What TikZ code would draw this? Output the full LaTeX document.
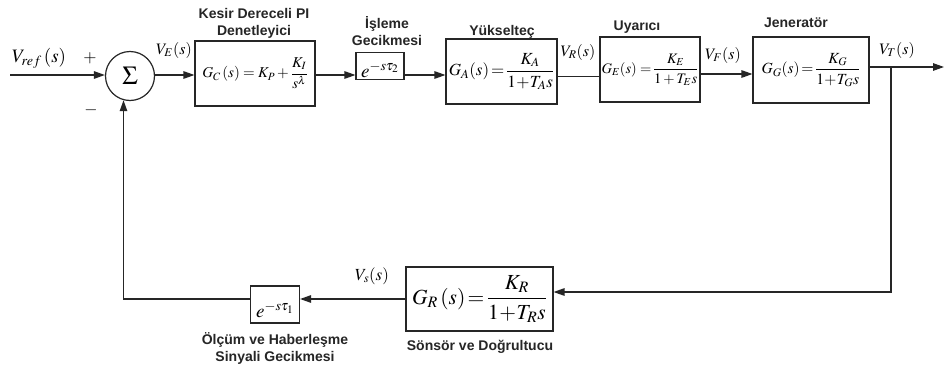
\documentclass[tikz,border=0pt]{standalone}
\usepackage{amsmath}
\usepackage{mathptmx}
\usepackage{fontspec}
\newfontfamily\lab{Liberation Sans}
\usetikzlibrary{arrows.meta}
\begin{document}
\begin{tikzpicture}[x=1pt,y=-1pt,
  line width=1.3pt, draw=black!85,
  >={Triangle[length=11pt,width=7.5pt]},
  blk/.style={draw=black!85, line width=1.1pt, inner sep=0pt, anchor=center},
  ttl/.style={font=\lab\bfseries\fontsize{14}{17}\selectfont, align=center, inner sep=0pt, text=black!85},
  sig/.style={inner sep=0pt, font=\fontsize{16}{18}\selectfont}]
\useasboundingbox[fill=white] (0,0) rectangle (947,367);
% blocks
\node[draw=black!85, circle, minimum size=49pt, inner sep=0pt, line width=1.2pt] (sum) at (130,76) {\fontsize{26}{26}\selectfont$\Sigma$};
\node[blk, minimum width=120pt, minimum height=65pt] (gc) at (255,73.5)
  {\fontsize{15}{17}\selectfont$G_C\,(s)=K_P+\dfrac{K_I}{s^{\lambda}}$\hspace{6pt}};
\node[blk, minimum width=48pt, minimum height=27pt] (d2) at (380,66)
  {\raisebox{-11pt}[0pt][0pt]{\fontsize{19}{19}\selectfont$e^{-s\tau_2}$}};
\node[blk, minimum width=111pt, minimum height=65pt] (ga) at (501.5,71.5)
  {\fontsize{17}{19}\selectfont$G_A(s)\!=\!\dfrac{K_A}{1\!+\!T_As}$};
\node[blk, minimum width=100pt, minimum height=65pt] (ge) at (650,69.5)
  {\fontsize{14.5}{16}\selectfont$G_E(s)=\!\dfrac{K_E}{1+T_Es}$};
\node[blk, minimum width=116pt, minimum height=66pt] (gg) at (811,70)
  {\fontsize{15.5}{17}\selectfont$G_{G}(s)\!=\!\dfrac{K_G}{1\!+\!T_{G}s}$};
\node[blk, minimum width=147pt, minimum height=64pt] (gr) at (479.5,299)
  {\fontsize{21.5}{24}\selectfont$G_R\,(s)\!=\!\dfrac{K_R}{1\!+\!T_Rs}$};
\node[blk, minimum width=49pt, minimum height=37pt] (d1) at (275,304.5)
  {\raisebox{-13pt}[0pt][0pt]{\fontsize{19}{19}\selectfont$e^{-s\tau_1}$}};
% titles
\node[ttl] (t1) at (254,23) {Kesir Dereceli PI\\Denetleyici};
\node[ttl] (t2) at (387,31) {İşleme\\Gecikmesi};
\node[ttl] (t3) at (502,32) {Yükselteç};
\node[ttl] (t4) at (637,27) {Uyarıcı};
\node[ttl] (t5) at (796,23) {Jeneratör};
\node[ttl] (t6) at (275,348) {Ölçüm ve Haberleşme\\Sinyali Gecikmesi};
\node[ttl] (t7) at (480,347) {Sönsör ve Doğrultucu};
% signal labels
\node[sig, font=\fontsize{19}{20}\selectfont] (vref) at (39,58) {$V_{ref}\,(s)$};
\node[sig, font=\fontsize{17}{17}\selectfont] (plus) at (90,58) {$+$};
\node[sig, font=\fontsize{17}{17}\selectfont] (minus) at (91,110) {$-$};
\node[sig] (ve) at (174,50) {$V_E(s)$};
\node[sig] (vr) at (578,52) {$V_R(s)$};
\node[sig] (vf) at (723,55) {$V_F(s)$};
\node[sig] (vt) at (897,50) {$V_T(s)$};
\node[sig, font=\fontsize{17}{18}\selectfont] (vs) at (372,276) {$V_s(s)$};
% connectors
\coordinate (in) at (10,75);
\coordinate (out) at (944,67);
\coordinate (br) at (891,67);
\coordinate (gaout) at ([yshift=-5pt]ga.east);
\coordinate (geout) at ([yshift=-4.5pt]ge.east);
\coordinate (ggout) at ([yshift=3pt]gg.east);
\coordinate (grin) at ([yshift=7pt]gr.east);
\draw[->] (in) -- (sum.west |- in);
\draw[->] (sum.east |- in) -- (gc.west |- in);
\draw[->] (gc.east |- in) -- (d2.west |- in);
\draw[->] (d2.east |- in) -- (ga.west |- in);
\draw (gaout) -- (ge.west |- gaout);
\draw[->] (geout) -- (gg.west |- geout);
\draw[->] (ggout) -- (out);
\draw[->] (br) |- (grin);
\draw[->] (gr.west) -- (d1.east |- gr.west);
\draw[->] (d1.west |- gr.west) -| (sum.-105);
\end{tikzpicture}
\end{document}
